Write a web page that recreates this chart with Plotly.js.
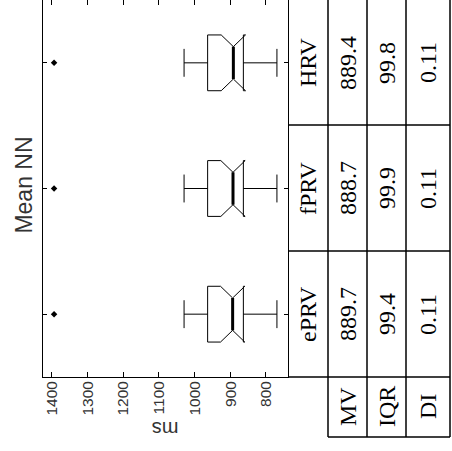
<!DOCTYPE html>
<html><head><meta charset="utf-8">
<script src="https://cdn.plot.ly/plotly-3.0.1.min.js"></script>
<style>
html,body{margin:0;padding:0;overflow:hidden;background:#fff;width:452px;height:451px;}
#wrap{position:absolute;left:0;top:0;width:451px;height:452px;transform-origin:0 0;transform:translate(0px,451px) rotate(-90deg);}
</style></head><body><div id="wrap"></div>
<script>
// ---- data ----
const categories = ['ePRV', 'fPRV', 'HRV'];
const upperWhisker = [1029, 1029, 1029];
const q3Values = [963, 963, 963];
const medianValues = [893, 892, 891];
const q1Values = [863, 863, 863];
const lowerWhisker = [769, 769, 769];
const notchSpans = [34, 34, 34];
const outlierValues = [1393, 1393, 1393];
const rowLabels = ['MV', 'IQR', 'DI'];
const mvValues = [889.7, 888.7, 889.4];
const iqrValues = [99.4, 99.9, 99.8];
const diValues = [0.11, 0.11, 0.11];
const yTickValues = [800, 900, 1000, 1100, 1200, 1300, 1400];

// ---- layout geometry (unrotated figure, px) ----
const W = 451, H = 452;
const M = {l: 74, r: 0, t: 43, b: 164};
const plotW = W - M.l - M.r, plotH = H - M.t - M.b;
const px = X => (X - M.l) / plotW;          // pixel X -> paper x
const py = Y => (H - M.b - Y) / plotH;       // pixel Y -> paper y
const sans = 'Liberation Sans, Arial, sans-serif';
const serif = 'Liberation Serif, Times New Roman, serif';

const boxWidth = 0.444, notchWidth = 0.21;
const medianHalf = boxWidth / 2 * (1 - 2 * notchWidth);

const traces = [
  {
    type: 'box', orientation: 'v', x: categories,
    q1: q1Values, median: medianValues, q3: q3Values,
    lowerfence: lowerWhisker, upperfence: upperWhisker, notchspan: notchSpans,
    notched: true, notchwidth: notchWidth, width: boxWidth, whiskerwidth: 0.5,
    boxpoints: false, line: {color: '#000', width: 1}, fillcolor: 'rgba(0,0,0,0)',
    showlegend: false, hoverinfo: 'skip'
  },
  {
    type: 'scatter', mode: 'markers', x: categories, y: outlierValues,
    marker: {symbol: 'diamond', size: 5, color: '#000'},
    showlegend: false, hoverinfo: 'skip'
  }
];

const shapes = [];
medianValues.forEach((m, i) => {
  shapes.push({type: 'line', xref: 'x', yref: 'y', x0: i - medianHalf, x1: i + medianHalf,
    y0: m, y1: m, line: {color: '#000', width: 3}});
});
const tl = {color: '#000', width: 1.5};
const colXs = [74, 200, 326];
// horizontal table lines
[328, 367, 406, 450].forEach(Y => shapes.push({type: 'line', xref: 'paper', yref: 'paper',
  x0: px(14), x1: px(451), y0: py(Y), y1: py(Y), line: tl}));
// vertical table lines
shapes.push({type: 'line', xref: 'paper', yref: 'paper', x0: px(14), x1: px(14), y0: py(328), y1: py(450), line: tl});
colXs.forEach(X => shapes.push({type: 'line', xref: 'paper', yref: 'paper',
  x0: px(X), x1: px(X), y0: py(288), y1: py(450), line: tl}));

const annotations = [];
const cellFont = {family: serif, size: 24, color: '#000'};
const rowCenters = [308, 347.5, 386.5, 428];
categories.forEach((c, i) => {
  annotations.push({xref: 'x', yref: 'paper', x: i, y: py(rowCenters[0]), text: c,
    showarrow: false, font: cellFont, xanchor: 'center', yanchor: 'middle'});
  [mvValues[i].toFixed(1), iqrValues[i].toFixed(1), diValues[i].toFixed(2)].forEach((t, r) => {
    annotations.push({xref: 'x', yref: 'paper', x: i, y: py(rowCenters[r + 1]), text: t,
      showarrow: false, font: cellFont, xanchor: 'center', yanchor: 'middle'});
  });
});
rowLabels.forEach((t, r) => {
  annotations.push({xref: 'paper', yref: 'paper', x: px(44), y: py(rowCenters[r + 1]), text: t,
    showarrow: false, font: cellFont, xanchor: 'center', yanchor: 'middle'});
});
annotations.push({xref: 'paper', yref: 'paper', x: px(22), y: 0.5, text: 'ms', textangle: -90,
  showarrow: false, font: {family: sans, size: 20, color: '#333'}, xanchor: 'center', yanchor: 'middle'});

const layout = {
  width: W, height: H, margin: M,
  paper_bgcolor: '#fff', plot_bgcolor: '#fff',
  title: {text: 'Mean NN', font: {family: sans, size: 23, color: '#333'},
    xref: 'paper', x: px(266), xanchor: 'center', yref: 'container', y: 1 - 24 / H, yanchor: 'middle'},
  xaxis: {type: 'category', range: [-0.5, 2.5], showline: true, mirror: 'ticks', linecolor: '#000', linewidth: 1,
    ticks: 'inside', ticklen: 4, tickcolor: '#000', showticklabels: false, showgrid: false, zeroline: false, fixedrange: true},
  yaxis: {range: [738, 1424], tickvals: yTickValues, showline: true, mirror: 'ticks', linecolor: '#000', linewidth: 1,
    ticks: 'inside', ticklen: 5, tickcolor: '#000', tickfont: {family: sans, size: 15.5, color: '#333'},
    showgrid: false, zeroline: false, fixedrange: true},
  shapes: shapes, annotations: annotations, showlegend: false
};
Plotly.newPlot('wrap', traces, layout, {staticPlot: true, displayModeBar: false});
</script></body></html>
